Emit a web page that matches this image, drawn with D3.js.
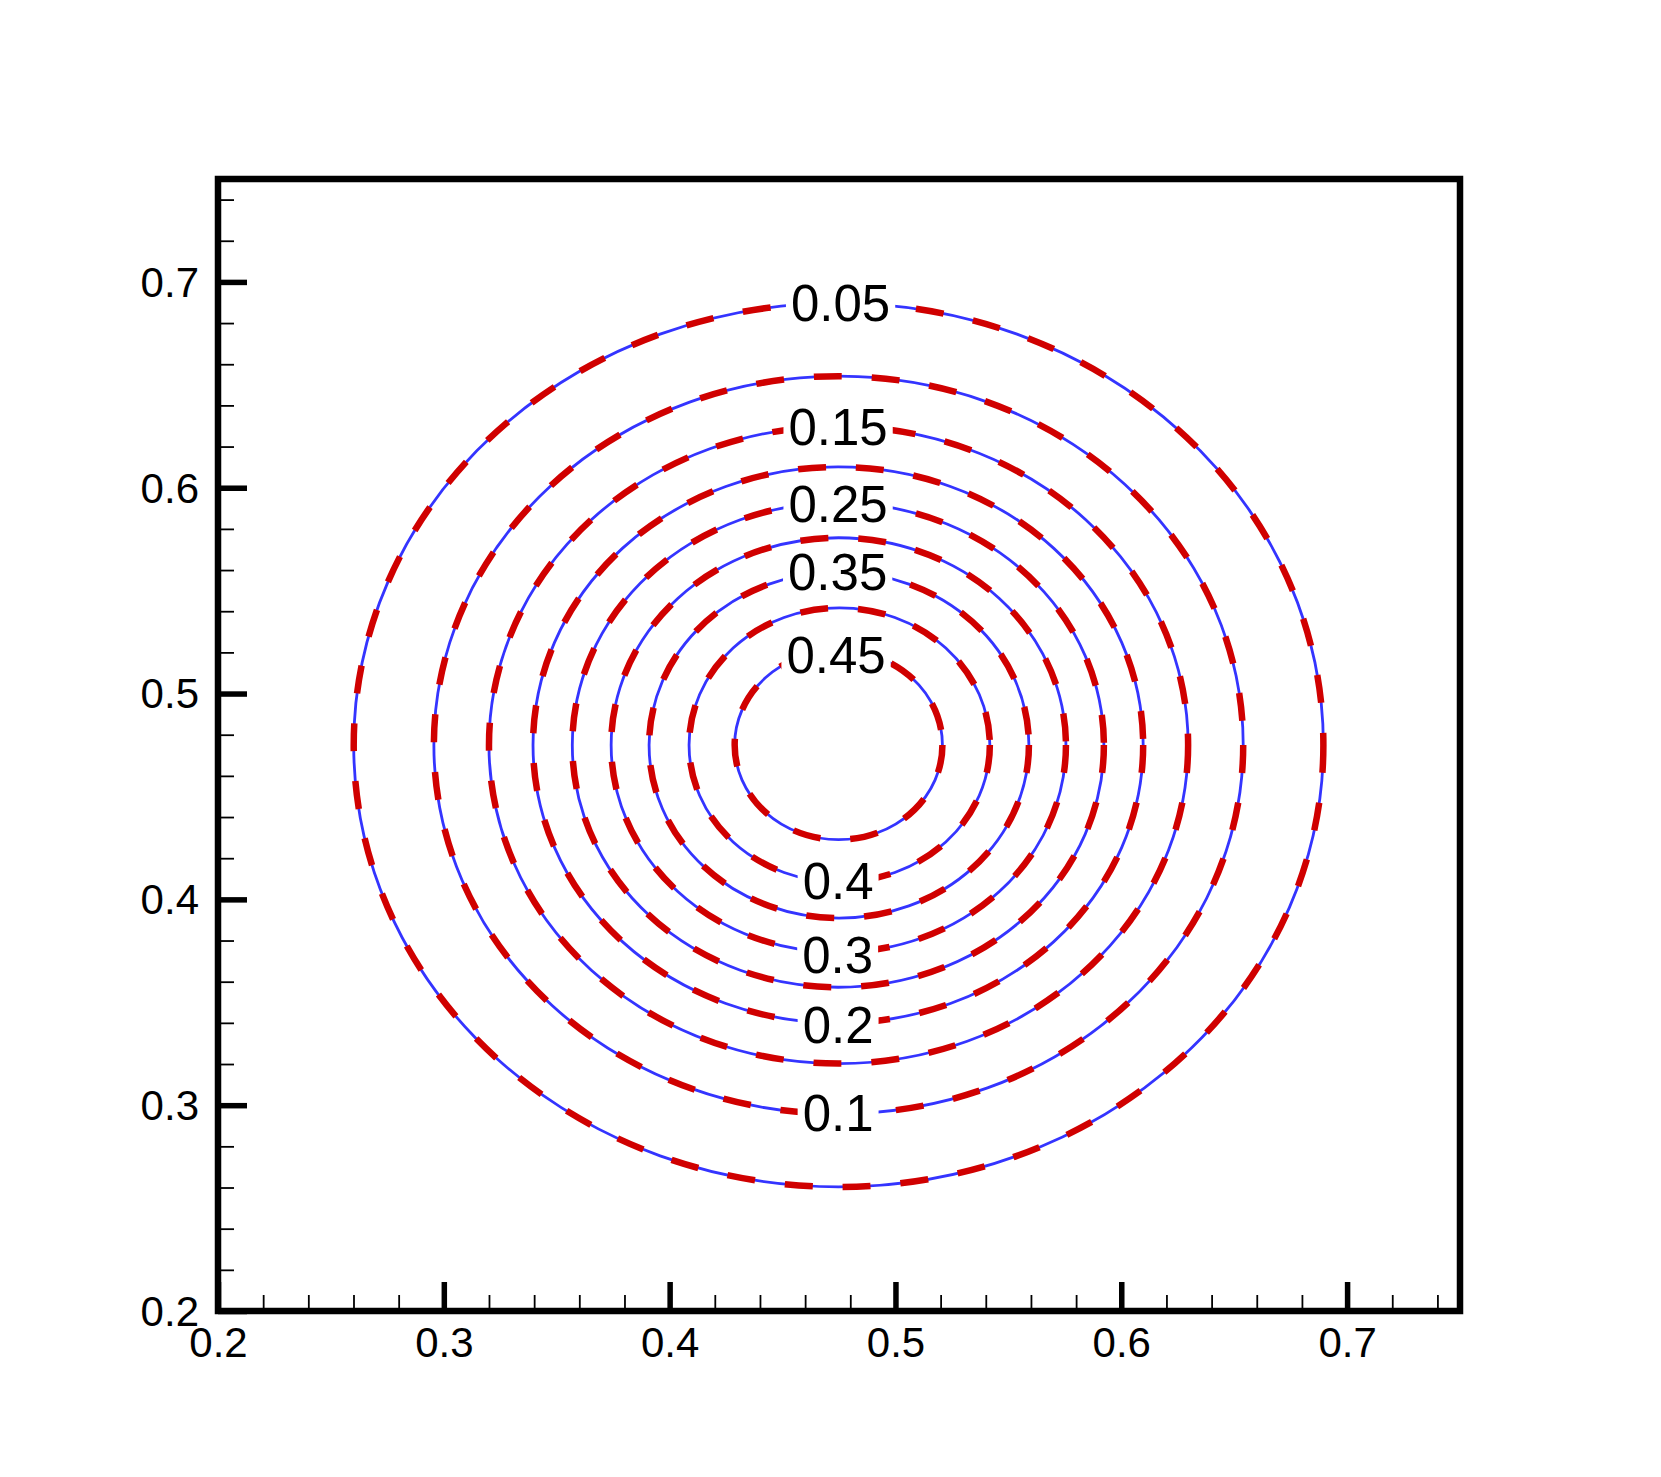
<!DOCTYPE html>
<html>
<head>
<meta charset="utf-8">
<script src="https://cdn.jsdelivr.net/npm/d3@7"></script>
<style>
  body { margin: 0; background: #ffffff; }
  svg { display: block; }
</style>
</head>
<body>
<svg id="chart" width="1661" height="1477"></svg>
<script>
// ---- data ----
const xMajorTicks = [0.2, 0.3, 0.4, 0.5, 0.6, 0.7];
const yMajorTicks = [0.2, 0.3, 0.4, 0.5, 0.6, 0.7];
const xTickLabels = ["0.2", "0.3", "0.4", "0.5", "0.6", "0.7"];
const yTickLabels = ["0.2", "0.3", "0.4", "0.5", "0.6", "0.7"];
const xMinorTicks = [0.22, 0.24, 0.26, 0.28, 0.32, 0.34, 0.36, 0.38, 0.42, 0.44, 0.46, 0.48,
                     0.52, 0.54, 0.56, 0.58, 0.62, 0.64, 0.66, 0.68, 0.72, 0.74];
const yMinorTicks = [0.22, 0.24, 0.26, 0.28, 0.32, 0.34, 0.36, 0.38, 0.42, 0.44, 0.46, 0.48,
                     0.52, 0.54, 0.56, 0.58, 0.62, 0.64, 0.66, 0.68, 0.72, 0.74];

// contour levels and their (nearly circular) extents in data units
const contourLevels  = [0.05, 0.1, 0.15, 0.2, 0.25, 0.3, 0.35, 0.4, 0.45];
const contourLabels  = ["0.05", "0.1", "0.15", "0.2", "0.25", "0.3", "0.35", "0.4", "0.45"];
const contourCenterX = [0.4748, 0.4748, 0.4748, 0.4746, 0.4746, 0.4748, 0.4750, 0.4752, 0.4748];
const contourCenterY = [0.4750, 0.4750, 0.4750, 0.4750, 0.4750, 0.4750, 0.4750, 0.4750, 0.4750];
const contourRadius  = [0.2147, 0.1792, 0.1548, 0.1351, 0.1177, 0.1007, 0.0841, 0.0666, 0.0460];
// label anchor positions (data units)
const labelX = [0.4757, 0.4746, 0.4746, 0.4746, 0.4746, 0.4744, 0.4744, 0.4746, 0.4737];
const labelY = [0.6900, 0.2962, 0.6295, 0.3392, 0.5921, 0.3732, 0.5591, 0.4092, 0.5190];

// ---- layout ----
const svg = d3.select("#chart");
const W = 1661, H = 1477;
svg.append("rect").attr("width", W).attr("height", H).attr("fill", "#ffffff");

const mLeft = 218, mRight = 1460, mTop = 179, mBottom = 1311;
const x = d3.scaleLinear().domain([0.2, 0.75]).range([mLeft, mRight]);
const y = d3.scaleLinear().domain([0.2, 0.75]).range([mBottom, mTop]);

const FONT = "'Liberation Sans', Arial, Helvetica, sans-serif";

// ---- contours ----
const cg = svg.append("g").attr("class", "contours");
const cdata = contourLevels.map((lv, i) => ({
  level: lv, cx: contourCenterX[i], cy: contourCenterY[i], r: contourRadius[i]
}));

// blue solid lines
cg.selectAll("ellipse.blue").data(cdata).join("ellipse")
  .attr("class", "blue")
  .attr("cx", d => x(d.cx))
  .attr("cy", d => y(d.cy))
  .attr("rx", d => x(d.cx + d.r) - x(d.cx))
  .attr("ry", d => y(d.cy) - y(d.cy + d.r))
  .attr("fill", "none")
  .attr("stroke", "#3434ff")
  .attr("stroke-width", 2.8);

// red dashed lines
cg.selectAll("ellipse.red").data(cdata).join("ellipse")
  .attr("class", "red")
  .attr("cx", d => x(d.cx))
  .attr("cy", d => y(d.cy))
  .attr("rx", d => x(d.cx + d.r) - x(d.cx))
  .attr("ry", d => y(d.cy) - y(d.cy + d.r))
  .attr("fill", "none")
  .attr("stroke", "#d00000")
  .attr("stroke-width", 6.5)
  .attr("stroke-dasharray", "28,30");

// contour labels with white knock-out boxes
const lg = svg.append("g").attr("class", "labels");
contourLabels.forEach((txt, i) => {
  const g = lg.append("g");
  const rect = g.append("rect").attr("fill", "#ffffff");
  const t = g.append("text")
    .attr("x", x(labelX[i]))
    .attr("y", y(labelY[i]) + 18.3)
    .attr("text-anchor", "middle")
    .attr("font-family", FONT)
    .attr("font-size", 51)
    .attr("fill", "#000000")
    .text(txt);
  const bb = t.node().getBBox();
  rect.attr("x", bb.x - 5).attr("width", bb.width + 10)
      .attr("y", y(labelY[i]) - 20).attr("height", 40);
});

// ---- axes ----
const ag = svg.append("g").attr("class", "axes");

const xMajorAxis = d3.axisBottom(x).tickValues(xMajorTicks)
  .tickSizeInner(-29).tickSizeOuter(0).tickPadding(16)
  .tickFormat((d, i) => xTickLabels[i]);
const xMinorAxis = d3.axisBottom(x).tickValues(xMinorTicks)
  .tickSizeInner(-16).tickSizeOuter(0).tickFormat("");
const yMajorAxis = d3.axisLeft(y).tickValues(yMajorTicks)
  .tickSizeInner(-29).tickSizeOuter(0).tickPadding(19)
  .tickFormat((d, i) => yTickLabels[i]);
const yMinorAxis = d3.axisLeft(y).tickValues(yMinorTicks)
  .tickSizeInner(-16).tickSizeOuter(0).tickFormat("");

function styleAxis(sel, width) {
  sel.select(".domain").remove();
  sel.selectAll(".tick line").attr("stroke", "#000").attr("stroke-width", width);
  sel.selectAll(".tick text")
    .attr("font-family", FONT).attr("font-size", 42).attr("fill", "#000");
}

const gxMinor = ag.append("g").attr("transform", `translate(0,${mBottom})`).call(xMinorAxis);
styleAxis(gxMinor, 1.8);
const gxMajor = ag.append("g").attr("transform", `translate(0,${mBottom})`).call(xMajorAxis);
styleAxis(gxMajor, 5.5);
gxMajor.selectAll(".tick text").attr("dy", "0.71em");

const gyMinor = ag.append("g").attr("transform", `translate(${mLeft},0)`).call(yMinorAxis);
styleAxis(gyMinor, 1.8);
const gyMajor = ag.append("g").attr("transform", `translate(${mLeft},0)`).call(yMajorAxis);
styleAxis(gyMajor, 5.5);
gyMajor.selectAll(".tick text").attr("dy", "0.34em");

// frame
ag.append("rect")
  .attr("x", mLeft).attr("y", mTop)
  .attr("width", mRight - mLeft).attr("height", mBottom - mTop)
  .attr("fill", "none").attr("stroke", "#000").attr("stroke-width", 6.5);
</script>
</body>
</html>
